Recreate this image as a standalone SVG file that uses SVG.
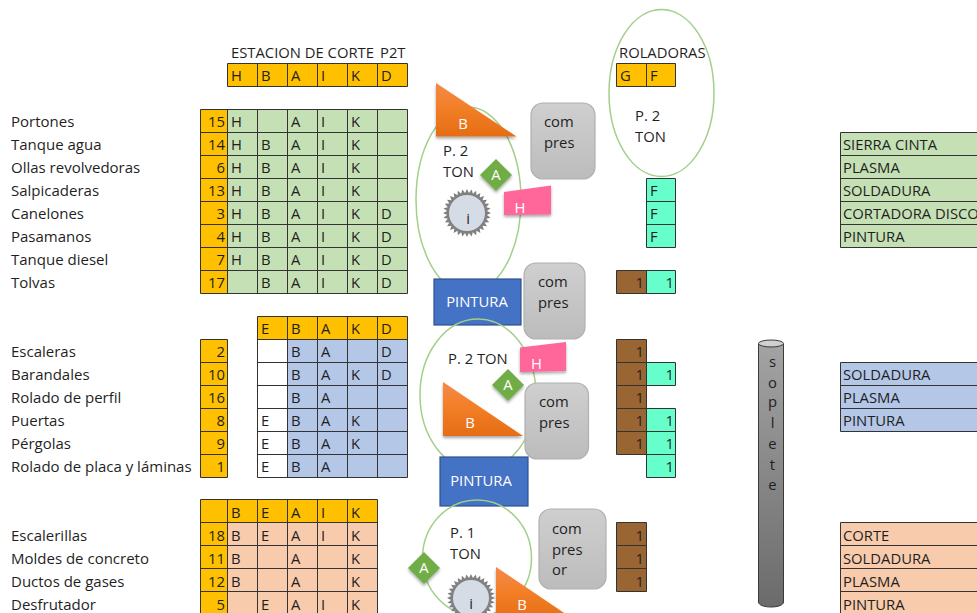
<svg xmlns="http://www.w3.org/2000/svg" width="977" height="613" viewBox="0 0 977 613">
<style>
text{font-family:"Open Sans","Liberation Sans",sans-serif;font-size:14.8px;fill:#1f1f1f;transform:translateY(-.5px)}
#labels-1 text,#labels-2 text,#labels-3 text{font-size:15px}
.n{text-anchor:end}
text.w{fill:#fff}
.c{text-anchor:middle}
.g{fill:none;stroke:#333;stroke-width:1}
.oran{fill:#ffc000}.gr{fill:#c5e0b4}.bl{fill:#b4c7e7}.pe{fill:#f8cbad}.te{fill:#66ffcc}.br{fill:#996633}
.el{fill:none;stroke:#a4cf8a;stroke-width:1.5}
.comp{fill:url(#gc);stroke:#b0b0b0;stroke-width:1.2}
.tri{fill:url(#go);filter:url(#sh)}
.dia{fill:#70ad47;filter:url(#sh)}
.pink{fill:#ff6699;filter:url(#sh)}
.pin{fill:#4472c4;stroke:#2f528f;stroke-width:1.2}
</style>
<defs>
<linearGradient id="go" x1="0" y1="0" x2="0" y2="1"><stop offset="0" stop-color="#f4894a"/><stop offset=".45" stop-color="#f37f28"/><stop offset="1" stop-color="#e56d14"/></linearGradient>
<linearGradient id="gc" x1="0" y1="0" x2="0" y2="1"><stop offset="0" stop-color="#cfcfcf"/><stop offset="1" stop-color="#bcbcbc"/></linearGradient>
<linearGradient id="gs" x1="0" y1="0" x2="0" y2="1"><stop offset="0" stop-color="#a3a3a3"/><stop offset="1" stop-color="#6b6b6b"/></linearGradient>
<filter id="sh" x="-20%" y="-20%" width="140%" height="150%"><feDropShadow dx="0" dy="2" stdDeviation="1.5" flood-color="#000" flood-opacity=".35"/></filter>
<g id="gear">
<polygon fill="#808080" points="24,0 19.9,1.96 23.54,4.68 19.14,5.81 22.17,9.18 17.64,9.43 19.96,13.33 15.46,12.69 16.97,16.97 12.69,15.46 13.33,19.96 9.43,17.64 9.18,22.17 5.81,19.14 4.68,23.54 1.96,19.9 0,24 -1.96,19.9 -4.68,23.54 -5.81,19.14 -9.18,22.17 -9.43,17.64 -13.33,19.96 -12.69,15.46 -16.97,16.97 -15.46,12.69 -19.96,13.33 -17.64,9.43 -22.17,9.18 -19.14,5.81 -23.54,4.68 -19.9,1.96 -24,0 -19.9,-1.96 -23.54,-4.68 -19.14,-5.81 -22.17,-9.18 -17.64,-9.43 -19.96,-13.33 -15.46,-12.69 -16.97,-16.97 -12.69,-15.46 -13.33,-19.96 -9.43,-17.64 -9.18,-22.17 -5.81,-19.14 -4.68,-23.54 -1.96,-19.9 0,-24 1.96,-19.9 4.68,-23.54 5.81,-19.14 9.18,-22.17 9.43,-17.64 13.33,-19.96 12.69,-15.46 16.97,-16.97 15.46,-12.69 19.96,-13.33 17.64,-9.43 22.17,-9.18 19.14,-5.81 23.54,-4.68 19.9,-1.96"/>
<circle r="18" fill="#d6dce5"/>
</g>
</defs>
<rect width="977" height="613" fill="#fff"/>

<g id="labels-1">
<text x="11" y="127">Portones</text><text x="11" y="150">Tanque agua</text><text x="11" y="173">Ollas revolvedoras</text><text x="11" y="196">Salpicaderas</text><text x="11" y="219">Canelones</text><text x="11" y="242">Pasamanos</text><text x="11" y="265">Tanque diesel</text><text x="11" y="288">Tolvas</text>
</g>
<g id="header-corte">
<text x="231" y="58">ESTACION DE CORTE<tspan x="380">P2T</tspan></text>
<rect class="oran" x="227.5" y="63.5" width="180" height="23"/>
<path class="g" d="M227.5 63.5H407.5V86.5H227.5ZM257.5 63.5V86.5M287.5 63.5V86.5M317.5 63.5V86.5M347.5 63.5V86.5M377.5 63.5V86.5"/>
<text x="231" y="81">H</text><text x="261" y="81">B</text><text x="291" y="81">A</text><text x="321" y="81">I</text><text x="351" y="81">K</text><text x="381" y="81">D</text>
</g>
<g id="table-green">
<rect class="oran" x="200.5" y="109.5" width="27" height="184"/>
<rect class="gr" x="227.5" y="109.5" width="180" height="184"/>
<path class="g" d="M200.5 109.5H407.5V293.5H200.5ZM200.5 132.5H407.5M200.5 155.5H407.5M200.5 178.5H407.5M200.5 201.5H407.5M200.5 224.5H407.5M200.5 247.5H407.5M200.5 270.5H407.5M227.5 109.5V293.5M257.5 109.5V293.5M287.5 109.5V293.5M317.5 109.5V293.5M347.5 109.5V293.5M377.5 109.5V293.5"/>
<text class="n" x="225" y="127">15</text><text x="231" y="127">H</text><text x="291" y="127">A</text><text x="321" y="127">I</text><text x="351" y="127">K</text>
<text class="n" x="225" y="150">14</text><text x="231" y="150">H</text><text x="261" y="150">B</text><text x="291" y="150">A</text><text x="321" y="150">I</text><text x="351" y="150">K</text>
<text class="n" x="225" y="173">6</text><text x="231" y="173">H</text><text x="261" y="173">B</text><text x="291" y="173">A</text><text x="321" y="173">I</text><text x="351" y="173">K</text>
<text class="n" x="225" y="196">13</text><text x="231" y="196">H</text><text x="261" y="196">B</text><text x="291" y="196">A</text><text x="321" y="196">I</text><text x="351" y="196">K</text>
<text class="n" x="225" y="219">3</text><text x="231" y="219">H</text><text x="261" y="219">B</text><text x="291" y="219">A</text><text x="321" y="219">I</text><text x="351" y="219">K</text><text x="381" y="219">D</text>
<text class="n" x="225" y="242">4</text><text x="231" y="242">H</text><text x="261" y="242">B</text><text x="291" y="242">A</text><text x="321" y="242">I</text><text x="351" y="242">K</text><text x="381" y="242">D</text>
<text class="n" x="225" y="265">7</text><text x="231" y="265">H</text><text x="261" y="265">B</text><text x="291" y="265">A</text><text x="321" y="265">I</text><text x="351" y="265">K</text><text x="381" y="265">D</text>
<text class="n" x="225" y="288">17</text><text x="261" y="288">B</text><text x="291" y="288">A</text><text x="321" y="288">I</text><text x="351" y="288">K</text><text x="381" y="288">D</text>
</g>

<g id="labels-2">
<text x="11" y="357">Escaleras</text><text x="11" y="380">Barandales</text><text x="11" y="403">Rolado de perfil</text><text x="11" y="426">Puertas</text><text x="11" y="449">Pérgolas</text><text x="11" y="472">Rolado de placa y láminas</text>
</g>
<g id="numbers-blue">
<rect class="oran" x="200.5" y="339.5" width="27" height="138"/>
<path class="g" d="M200.5 339.5H227.5V477.5H200.5ZM200.5 362.5H227.5M200.5 385.5H227.5M200.5 408.5H227.5M200.5 431.5H227.5M200.5 454.5H227.5"/>
<text class="n" x="225" y="357">2</text><text class="n" x="225" y="380">10</text><text class="n" x="225" y="403">16</text><text class="n" x="225" y="426">8</text><text class="n" x="225" y="449">9</text><text class="n" x="225" y="472">1</text>
</g>
<g id="table-blue">
<rect class="oran" x="257.5" y="316.5" width="150" height="23"/>
<rect fill="#fff" x="257.5" y="339.5" width="30" height="138"/>
<rect class="bl" x="287.5" y="339.5" width="120" height="138"/>
<path class="g" d="M257.5 316.5H407.5V477.5H257.5ZM257.5 339.5H407.5M257.5 362.5H407.5M257.5 385.5H407.5M257.5 408.5H407.5M257.5 431.5H407.5M257.5 454.5H407.5M287.5 316.5V477.5M317.5 316.5V477.5M347.5 316.5V477.5M377.5 316.5V477.5"/>
<text x="261" y="334">E</text><text x="291" y="334">B</text><text x="321" y="334">A</text><text x="351" y="334">K</text><text x="381" y="334">D</text>
<text x="291" y="357">B</text><text x="321" y="357">A</text><text x="381" y="357">D</text>
<text x="291" y="380">B</text><text x="321" y="380">A</text><text x="351" y="380">K</text><text x="381" y="380">D</text>
<text x="291" y="403">B</text><text x="321" y="403">A</text>
<text x="261" y="426">E</text><text x="291" y="426">B</text><text x="321" y="426">A</text><text x="351" y="426">K</text>
<text x="261" y="449">E</text><text x="291" y="449">B</text><text x="321" y="449">A</text><text x="351" y="449">K</text>
<text x="261" y="472">E</text><text x="291" y="472">B</text><text x="321" y="472">A</text>
</g>

<g id="labels-3">
<text x="11" y="541">Escalerillas</text><text x="11" y="564">Moldes de concreto</text><text x="11" y="587">Ductos de gases</text><text x="11" y="610">Desfrutador</text>
</g>
<g id="table-peach">
<rect class="oran" x="200.5" y="499.5" width="177" height="23"/>
<rect class="oran" x="200.5" y="522.5" width="27" height="92"/>
<rect class="pe" x="227.5" y="522.5" width="150" height="92"/>
<path class="g" d="M200.5 499.5H377.5V614.5H200.5ZM200.5 522.5H377.5M200.5 545.5H377.5M200.5 568.5H377.5M200.5 591.5H377.5M227.5 499.5V614.5M257.5 499.5V614.5M287.5 499.5V614.5M317.5 499.5V614.5M347.5 499.5V614.5"/>
<text x="231" y="518">B</text><text x="261" y="518">E</text><text x="291" y="518">A</text><text x="321" y="518">I</text><text x="351" y="518">K</text>
<text class="n" x="225" y="541">18</text><text x="231" y="541">B</text><text x="261" y="541">E</text><text x="291" y="541">A</text><text x="321" y="541">I</text><text x="351" y="541">K</text>
<text class="n" x="225" y="564">11</text><text x="231" y="564">B</text><text x="291" y="564">A</text><text x="351" y="564">K</text>
<text class="n" x="225" y="587">12</text><text x="231" y="587">B</text><text x="291" y="587">A</text><text x="351" y="587">K</text>
<text class="n" x="225" y="610">5</text><text x="261" y="610">E</text><text x="291" y="610">A</text><text x="321" y="610">I</text><text x="351" y="610">K</text>
</g>

<g id="station-1">
<ellipse class="el" cx="468.5" cy="200" rx="52.5" ry="93"/>
<polygon class="tri" points="436,83 436,136.5 516.5,136.5"/>
<text class="w c" x="463" y="129">B</text>
<text x="443" y="156">P. 2</text><text x="443" y="177">TON</text>
<polygon class="dia" points="496,159 512,175 496,191 480,175"/>
<text class="w c" x="496" y="180">A</text>
<use href="#gear" x="467" y="213"/>
<text class="c" x="468" y="224">i</text>
<polygon class="pink" points="504,192 551,185.5 551,214.5 504,215"/>
<text class="w c" x="520" y="213">H</text>
<rect class="comp" x="531" y="103" width="64" height="76" rx="12"/>
<text x="544" y="127">com</text><text x="544" y="148">pres</text>
</g>
<g id="station-1-paint">
<rect class="pin" x="434" y="279" width="87" height="46"/>
<text class="w c" x="477" y="307">PINTURA</text>
<rect class="comp" x="524" y="263" width="61" height="76" rx="12"/>
<text x="538" y="287">com</text><text x="538" y="308">pres</text>
</g>

<g id="station-2">
<ellipse class="el" cx="478" cy="395" rx="58" ry="76"/>
<text x="448" y="364">P. 2 TON</text>
<polygon class="pink" points="520,347.5 566,342 566,371 520,372"/>
<text class="w c" x="536.5" y="369">H</text>
<polygon class="dia" points="508,369 524,385 508,401 492,385"/>
<text class="w c" x="508" y="390">A</text>
<polygon class="tri" points="443,382 443,436 523,436"/>
<text class="w c" x="470" y="428">B</text>
<rect class="comp" x="525" y="383" width="63.5" height="76" rx="12"/>
<text x="539" y="407">com</text><text x="539" y="428">pres</text>
</g>
<g id="station-2-paint">
<rect class="pin" x="440" y="457" width="88" height="49"/>
<text class="w c" x="481" y="486">PINTURA</text>
</g>

<g id="station-3">
<ellipse class="el" cx="477" cy="558" rx="54.5" ry="58"/>
<text x="450" y="538">P. 1</text><text x="450" y="559">TON</text>
<polygon class="dia" points="424,552 440,568 424,584 408,568"/>
<text class="w c" x="424" y="573">A</text>
<use href="#gear" x="471" y="598"/>
<text class="c" x="471" y="609">i</text>
<polygon class="tri" points="496,567 496,621 576,621"/>
<text class="w c" x="522" y="610">B</text>
<rect class="comp" x="539" y="509" width="67" height="80" rx="12"/>
<text x="552" y="534">com</text><text x="552" y="555">pres</text><text x="552" y="575">or</text>
</g>

<g id="roladoras">
<ellipse class="el" cx="661.5" cy="93" rx="52.5" ry="83.5"/>
<text x="619" y="58">ROLADORAS</text>
<rect class="oran" x="616.5" y="63.5" width="59" height="23"/>
<path class="g" d="M616.5 63.5H675.5V86.5H616.5ZM646.5 63.5V86.5"/>
<text x="620" y="81">G</text><text x="650" y="81">F</text>
<text x="635" y="121">P. 2</text><text x="635" y="142">TON</text>
</g>
<g id="counts">
<rect class="te" x="646.5" y="178.5" width="29" height="69"/>
<path class="g" d="M646.5 178.5H675.5V247.5H646.5ZM646.5 201.5H675.5M646.5 224.5H675.5"/>
<text x="650" y="196">F</text><text x="650" y="219">F</text><text x="650" y="242">F</text>
<rect class="br" x="616.5" y="270.5" width="30" height="23"/><rect class="te" x="646.5" y="270.5" width="29" height="23"/>
<path class="g" d="M616.5 270.5H675.5V293.5H616.5ZM646.5 270.5V293.5"/>
<text class="n" x="644" y="288">1</text><text class="n" x="674" y="288">1</text>
<rect class="br" x="616.5" y="339.5" width="30" height="115"/>
<path class="g" d="M616.5 339.5H646.5V454.5H616.5ZM616.5 362.5H646.5M616.5 385.5H646.5M616.5 408.5H646.5M616.5 431.5H646.5"/>
<rect class="te" x="646.5" y="362.5" width="29" height="23"/><rect class="te" x="646.5" y="408.5" width="29" height="69"/>
<path class="g" d="M646.5 362.5H675.5V385.5H646.5ZM646.5 408.5H675.5V477.5H646.5ZM646.5 431.5H675.5M646.5 454.5H675.5"/>
<text class="n" x="644" y="357">1</text><text class="n" x="644" y="380">1</text><text class="n" x="644" y="403">1</text><text class="n" x="644" y="426">1</text><text class="n" x="644" y="449">1</text>
<text class="n" x="674" y="380">1</text><text class="n" x="674" y="426">1</text><text class="n" x="674" y="449">1</text><text class="n" x="674" y="472">1</text>
<rect class="br" x="616.5" y="522.5" width="30" height="69"/>
<path class="g" d="M616.5 522.5H646.5V591.5H616.5ZM616.5 545.5H646.5M616.5 568.5H646.5"/>
<text class="n" x="644" y="541">1</text><text class="n" x="644" y="564">1</text><text class="n" x="644" y="587">1</text>
</g>

<g id="soplete">
<path d="M758.5 344V602C758.5 605 764 607 771 607S783.5 605 783.5 602V344Z" fill="url(#gs)" stroke="#3a3a3a" stroke-width="1"/>
<ellipse cx="771" cy="343.5" rx="12.5" ry="3.5" fill="#d0d0d0" stroke="#3a3a3a" stroke-width="1"/>
<text class="c" x="772.5" y="367">s</text><text class="c" x="772.5" y="388">o</text><text class="c" x="772.5" y="407">p</text><text class="c" x="772.5" y="428">l</text><text class="c" x="772.5" y="449">e</text><text class="c" x="772.5" y="470">t</text><text class="c" x="772.5" y="490">e</text>
</g>

<g id="list-green">
<rect class="gr" x="840.5" y="132.5" width="140" height="115"/>
<path class="g" d="M980 132.5H840.5V247.5H980M840.5 155.5H980M840.5 178.5H980M840.5 201.5H980M840.5 224.5H980"/>
<text x="843" y="150">SIERRA CINTA</text><text x="843" y="173">PLASMA</text><text x="843" y="196">SOLDADURA</text><text x="843" y="219">CORTADORA DISCO</text><text x="843" y="242">PINTURA</text>
</g>
<g id="list-blue">
<rect class="bl" x="840.5" y="362.5" width="140" height="69"/>
<path class="g" d="M980 362.5H840.5V431.5H980M840.5 385.5H980M840.5 408.5H980"/>
<text x="843" y="380">SOLDADURA</text><text x="843" y="403">PLASMA</text><text x="843" y="426">PINTURA</text>
</g>
<g id="list-peach">
<rect class="pe" x="840.5" y="522.5" width="140" height="92"/>
<path class="g" d="M980 522.5H840.5V614.5M840.5 545.5H980M840.5 568.5H980M840.5 591.5H980"/>
<text x="843" y="541">CORTE</text><text x="843" y="564">SOLDADURA</text><text x="843" y="587">PLASMA</text><text x="843" y="610">PINTURA</text>
</g>
</svg>
